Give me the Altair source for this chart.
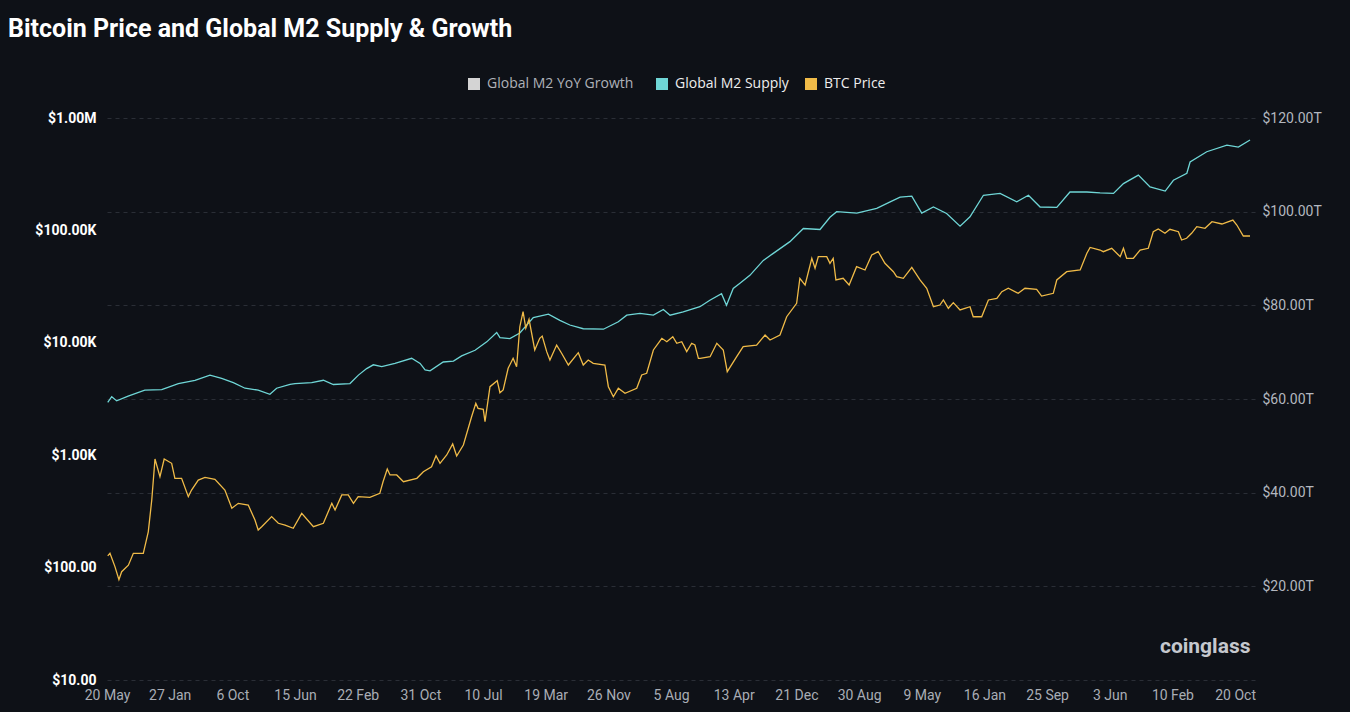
import altair as alt
import pandas as pd

# ---------------- data ----------------
growth_name = ["Global M2 YoY Growth"]
growth_color = ["#d4d4d4"]
series_names = ["Global M2 Supply", "BTC Price"]
series_colors = ["#6fd6d6", "#f0bb48"]

tick_dates = ["2013-05-20", "2014-01-27", "2014-10-06", "2015-06-15", "2016-02-22",
              "2016-10-31", "2017-07-10", "2018-03-19", "2018-11-26", "2019-08-05",
              "2020-04-13", "2020-12-21", "2021-08-30", "2022-05-09", "2023-01-16",
              "2023-09-25", "2024-06-03", "2025-02-10", "2025-10-20"]
x_start, x_end = "2013-05-12", "2026-01-08"

btc_ticks = [10, 100, 1000, 10000, 100000, 1000000]
m2_ticks = [0, 20, 40, 60, 80, 100, 120]

# Global M2 supply, trillions USD
m2_dates = [
    "2013-05-23", "2013-06-08", "2013-06-28", "2013-08-13", "2013-10-19", "2013-12-26", "2014-03-03", "2014-05-09", "2014-07-08", "2014-08-24",
    "2014-10-10", "2014-11-26", "2015-01-18", "2015-03-06", "2015-04-02", "2015-05-26", "2015-06-15", "2015-08-21", "2015-10-07", "2015-11-16",
    "2016-01-22", "2016-02-25", "2016-03-29", "2016-04-25", "2016-05-29", "2016-07-21", "2016-09-26", "2016-10-30", "2016-11-19", "2016-12-09",
    "2017-01-31", "2017-03-13", "2017-04-15", "2017-06-08", "2017-07-25", "2017-09-03", "2017-09-16", "2017-10-26", "2017-12-05", "2018-01-28",
    "2018-03-30", "2018-05-15", "2018-06-24", "2018-08-17", "2018-11-06", "2019-01-05", "2019-02-08", "2019-04-02", "2019-05-26", "2019-07-05",
    "2019-08-01", "2019-09-23", "2019-11-29", "2020-01-08", "2020-02-24", "2020-03-15", "2020-04-11", "2020-05-08", "2020-06-17", "2020-08-10",
    "2020-09-19", "2020-11-25", "2021-01-18", "2021-03-26", "2021-05-05", "2021-06-01", "2021-08-21", "2021-11-09", "2022-01-02", "2022-02-11",
    "2022-03-30", "2022-05-09", "2022-06-25", "2022-08-17", "2022-10-10", "2022-11-19", "2023-01-12", "2023-03-20", "2023-05-26", "2023-07-12",
    "2023-08-28", "2023-11-03", "2023-12-26", "2024-03-03", "2024-04-25", "2024-06-18", "2024-07-28", "2024-09-26", "2024-11-12", "2025-01-12",
    "2025-02-14", "2025-04-09", "2025-04-22", "2025-06-28", "2025-09-17", "2025-11-02", "2025-12-19",
]
m2_values = [
    59.3, 60.5, 59.6, 60.6, 61.9, 62.0, 63.3, 64.0, 65.1, 64.4,
    63.5, 62.3, 61.9, 61.0, 62.3, 63.1, 63.3, 63.5, 64.0, 63.1,
    63.3, 65.1, 66.5, 67.3, 66.9, 67.6, 68.7, 67.6, 66.2, 66.0,
    67.9, 68.1, 69.2, 70.4, 72.2, 74.2, 73.1, 72.9, 74.1, 77.4,
    78.1, 76.8, 75.8, 75.0, 74.9, 76.5, 77.9, 78.3, 77.9, 79.1,
    77.9, 78.6, 79.7, 81.1, 82.5, 80.0, 83.6, 84.7, 86.4, 89.6,
    91.1, 93.6, 96.4, 96.2, 98.8, 100.0, 99.7, 100.7, 102.1, 103.1,
    103.3, 99.7, 101.0, 99.6, 96.9, 98.9, 103.5, 103.9, 102.1, 103.5,
    101.0, 100.9, 104.2, 104.2, 104.0, 103.9, 106.0, 107.8, 105.3, 104.4,
    106.7, 108.2, 110.6, 112.8, 114.2, 113.8, 115.3,
]

# BTC price, USD
btc_dates = [
    "2013-05-23", "2013-06-01", "2013-06-21", "2013-07-07", "2013-07-18", "2013-08-14", "2013-09-03", "2013-10-13", "2013-11-02", "2013-11-16",
    "2013-11-29", "2013-12-19", "2014-01-05", "2014-02-04", "2014-02-17", "2014-03-16", "2014-04-12", "2014-04-25", "2014-05-22", "2014-06-18",
    "2014-07-28", "2014-09-06", "2014-10-04", "2014-10-30", "2014-12-09", "2015-01-05", "2015-01-18", "2015-02-01", "2015-03-13", "2015-04-09",
    "2015-05-06", "2015-06-08", "2015-07-12", "2015-08-28", "2015-10-07", "2015-11-10", "2015-11-23", "2015-12-20", "2016-01-15", "2016-02-05",
    "2016-02-24", "2016-04-11", "2016-05-21", "2016-06-03", "2016-06-20", "2016-07-01", "2016-07-28", "2016-08-24", "2016-10-17", "2016-11-12",
    "2016-12-15", "2017-01-02", "2017-01-18", "2017-02-14", "2017-03-10", "2017-03-26", "2017-04-22", "2017-05-25", "2017-06-11", "2017-06-20",
    "2017-07-11", "2017-07-18", "2017-08-07", "2017-09-05", "2017-09-16", "2017-09-29", "2017-10-19", "2017-11-08", "2017-11-22", "2017-12-05",
    "2017-12-18", "2017-12-29", "2018-01-11", "2018-02-03", "2018-02-23", "2018-03-05", "2018-03-23", "2018-04-05", "2018-05-02", "2018-05-22",
    "2018-06-18", "2018-07-28", "2018-08-17", "2018-09-06", "2018-09-26", "2018-11-12", "2018-11-26", "2018-12-16", "2019-01-05", "2019-02-01",
    "2019-03-20", "2019-04-09", "2019-04-29", "2019-05-26", "2019-06-29", "2019-07-19", "2019-08-12", "2019-08-28", "2019-09-17", "2019-10-07",
    "2019-10-27", "2019-11-09", "2019-11-23", "2019-11-30", "2020-01-09", "2020-02-05", "2020-03-02", "2020-03-18", "2020-04-25", "2020-05-21",
    "2020-07-14", "2020-08-17", "2020-09-06", "2020-10-16", "2020-11-12", "2020-12-22", "2021-01-04", "2021-01-25", "2021-02-21", "2021-03-06",
    "2021-03-19", "2021-04-22", "2021-05-05", "2021-05-18", "2021-05-29", "2021-06-27", "2021-07-21", "2021-08-20", "2021-09-23", "2021-10-20",
    "2021-11-15", "2021-12-12", "2022-01-15", "2022-01-28", "2022-02-24", "2022-03-30", "2022-05-02", "2022-05-29", "2022-06-25", "2022-07-21",
    "2022-08-04", "2022-08-24", "2022-09-13", "2022-10-10", "2022-11-19", "2022-12-02", "2023-01-05", "2023-02-01", "2023-03-07", "2023-03-27",
    "2023-04-22", "2023-06-01", "2023-06-28", "2023-08-14", "2023-09-03", "2023-10-20", "2023-11-03", "2023-12-13", "2024-02-05", "2024-03-03",
    "2024-03-16", "2024-04-25", "2024-05-08", "2024-06-11", "2024-07-15", "2024-07-28", "2024-08-10", "2024-09-06", "2024-10-03", "2024-11-05",
    "2024-11-25", "2024-12-15", "2025-01-11", "2025-01-31", "2025-03-06", "2025-03-19", "2025-04-08", "2025-04-28", "2025-05-19", "2025-06-21",
    "2025-07-19", "2025-08-28", "2025-10-11", "2025-10-27", "2025-11-22", "2025-12-19",
]
btc_values = [
    127, 134, 102, 78, 92, 105, 134, 134, 208, 399,
    925, 644, 925, 847, 623, 623, 428, 490, 601, 635,
    611, 490, 337, 373, 360, 265, 216, 231, 284, 248,
    239, 224, 304, 231, 248, 373, 325, 443, 443, 373,
    428, 422, 458, 581, 753, 667, 667, 581, 623, 713,
    790, 990, 847, 1004, 1258, 984, 1233, 2200, 2895, 2612,
    2560, 1986, 4068, 4603, 3597, 3802, 5929, 7278, 6124, 13900,
    18920, 13460, 16180, 8630, 10960, 11480, 8340, 7030, 9550, 8067,
    6346, 8166, 6346, 7030, 6570, 6346, 4068, 3311, 3936, 3554,
    3936, 5170, 5355, 8630, 10960, 10230, 11320, 9900, 10230, 8340,
    9900, 9550, 7278, 7278, 7520, 9900, 8630, 5533, 7520, 9230,
    9550, 11730, 10590, 11730, 17060, 22460, 37500, 32660, 56490, 46030,
    58340, 58340, 50930, 56490, 36220, 37500, 32660, 47550, 44440, 60390,
    64640, 50930, 42910, 38730, 37500, 46960, 36220, 30550, 20940, 21680,
    24050, 20280, 22750, 19590, 20940, 17060, 17060, 24050, 24890, 28490,
    30550, 27570, 30550, 29920, 26060, 27570, 36220, 42910, 44440, 62570,
    70470, 66920, 64640, 69290, 58340, 69290, 56490, 56490, 66920, 69290,
    97390, 102900, 94190, 102300, 97390, 82150, 85050, 94190, 107900, 104400,
    119500, 114000, 123700, 111700, 89130, 89130,
]


def ms(d):
    return int(pd.Timestamp(d, tz="UTC").value // 10**6)


m2_df = pd.DataFrame({"date": m2_dates, "m2": m2_values, "series": "Global M2 Supply"})
btc_df = pd.DataFrame({"date": btc_dates, "btc": btc_values, "series": "BTC Price"})
growth_df = pd.DataFrame({"growth": pd.Series([], dtype="object")})  # series hidden in the reference

BG = "#0e1117"
GRID = "#2a2e36"
FONT = "Roboto"
LEGEND_FONT = "Open Sans"

x_enc = alt.X(
    "date:T",
    scale=alt.Scale(type="utc", domain=[ms(x_start), ms(x_end)]),
    axis=alt.Axis(values=[ms(d) for d in tick_dates],
                  labelExpr="utcFormat(datum.value, '%-d %b')",
                  title=None, grid=False, domain=False, ticks=False,
                  labelColor="#a9adb5", labelFontSize=14, labelFont=FONT,
                  labelPadding=8, labelFlush=False, labelOverlap=False),
)

color_enc = alt.Color(
    "series:N",
    scale=alt.Scale(domain=series_names, range=series_colors),
    legend=alt.Legend(orient="none", legendX=550, legendY=-41, direction="horizontal",
                      title=None, symbolType="square", symbolSize=36, symbolStrokeWidth=6,
                      labelFontSize=14, labelColor="#eeeeee", labelFont=LEGEND_FONT,
                      columnPadding=7, labelOffset=6),
)

m2_line = alt.Chart(m2_df).mark_line(strokeWidth=1.3).encode(
    x=x_enc,
    y=alt.Y("m2:Q",
            scale=alt.Scale(domain=[0, 120], nice=False, zero=False),
            axis=alt.Axis(orient="right", values=m2_ticks, title=None,
                          labelExpr="datum.value == 0 ? '' : '$' + format(datum.value, '.2f') + 'T'",
                          grid=True, gridColor=GRID, gridDash=[4, 4], gridWidth=1,
                          domain=False, ticks=False, labelColor="#b3b7bf",
                          labelFontSize=14, labelFont=FONT, labelPadding=7,
                          labelFlush=False, labelOverlap=False)),
    color=color_enc,
)

btc_line = alt.Chart(btc_df).mark_line(strokeWidth=1.3).encode(
    x=x_enc,
    y=alt.Y("btc:Q",
            scale=alt.Scale(type="log", domain=[10, 1000000], nice=False),
            axis=alt.Axis(orient="left", values=btc_ticks, title=None,
                          labelExpr="datum.value >= 1000000 ? '$' + format(datum.value / 1000000, '.2f') + 'M' : datum.value >= 1000 ? '$' + format(datum.value / 1000, '.2f') + 'K' : '$' + format(datum.value, '.2f')",
                          grid=False, domain=False, ticks=False, labelColor="#ffffff",
                          labelFontSize=14, labelFontWeight="bold", labelFont=FONT,
                          labelPadding=9, labelFlush=False, labelOverlap=False)),
    color=color_enc,
)

# legend entry of the (hidden) YoY growth series, greyed like the reference
growth_key = alt.Chart(growth_df).mark_square(opacity=1).encode(
    fill=alt.Fill("growth:N",
                  scale=alt.Scale(domain=growth_name, range=growth_color),
                  legend=alt.Legend(orient="none", legendX=362, legendY=-41,
                                    direction="horizontal", title=None,
                                    symbolType="square", symbolSize=144,
                                    symbolStrokeWidth=0, symbolOpacity=1,
                                    labelFontSize=14, labelColor="#aeb2b9",
                                    labelFont=LEGEND_FONT, labelOffset=6)),
)

watermark = alt.Chart(pd.DataFrame({"t": ["coinglass"]})).mark_text(
    align="left", baseline="middle", fontSize=21, fontWeight="bold",
    font=FONT, color="#c5c8ce",
).encode(x=alt.value(1055), y=alt.value(529), text="t:N")

chart = alt.layer(m2_line, btc_line, growth_key, watermark).resolve_scale(
    y="independent"
).properties(
    width=1150,
    height=562,
    padding={"left": 105, "top": 118, "right": 95, "bottom": 32},
    autosize=alt.AutoSizeParams(type="none"),
    title=alt.TitleParams("Bitcoin Price and Global M2 Supply & Growth", anchor="start",
                          frame="group", dx=-97, fontSize=25, fontWeight="bold", font=FONT,
                          color="#ffffff", offset=35),
).configure(background=BG).configure_view(stroke=None)

chart.save("out.html", embed_options={"renderer": "svg", "actions": False})
